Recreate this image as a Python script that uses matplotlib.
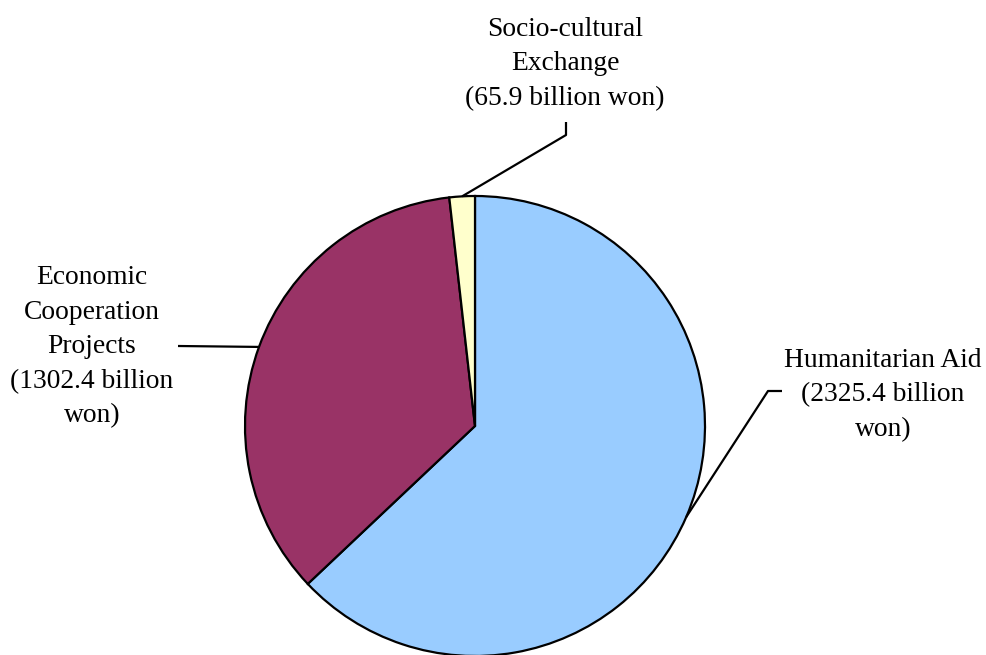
import numpy as np
import matplotlib
matplotlib.use("Agg")
import matplotlib.pyplot as plt

# datos del grafico (miles de millones de won)
categorias = ["Humanitarian Aid", "Economic Cooperation Projects", "Socio-cultural Exchange"]
valores = [2325.4, 1302.4, 65.9]
etiquetas = ["Humanitarian Aid\n(2325.4 billion\nwon)",
             "Economic\nCooperation\nProjects\n(1302.4 billion\nwon)",
             "Socio-cultural\nExchange\n(65.9 billion won)"]
colores = ["#99CCFF", "#993366", "#FFFFCC"]

W, H = 987, 655
plt.rcParams['font.family'] = ['Liberation Serif', 'DejaVu Serif']

fig = plt.figure(figsize=(W / 100, H / 100), dpi=100)
ax = fig.add_axes([0, 0, 1, 1])

centro = (475, H - 426)
radio = 230
cunas, _ = ax.pie(valores, colors=colores, startangle=90, counterclock=False,
                  center=centro, radius=radio,
                  wedgeprops=dict(edgecolor="black", linewidth=1.6))
ax.set_xlim(0, W)
ax.set_ylim(0, H)
ax.set_aspect('auto')
ax.axis('off')

# puntos de las lineas guia: (quiebre(s), posicion del texto)
guias = [
    ([(768, 391), (782, 391)], (883, 395)),
    ([(178, 346)], (92, 347)),
    ([(566, 135), (566, 122)], (565, 64)),
]

for cuna, etiqueta, (quiebres, pos_texto) in zip(cunas, etiquetas, guias):
    ang = np.deg2rad((cuna.theta1 + cuna.theta2) / 2)
    x0 = centro[0] + radio * np.cos(ang)
    y0 = centro[1] + radio * np.sin(ang)
    xs = [x0] + [q[0] for q in quiebres]
    ys = [y0] + [H - q[1] for q in quiebres]
    ax.plot(xs, ys, color="black", linewidth=1.6, solid_capstyle="butt")
    ax.text(pos_texto[0], H - pos_texto[1], etiqueta, ha="center", va="center",
            fontsize=19.8, linespacing=1.5, multialignment="center")

fig.savefig("out.png", dpi=100)
